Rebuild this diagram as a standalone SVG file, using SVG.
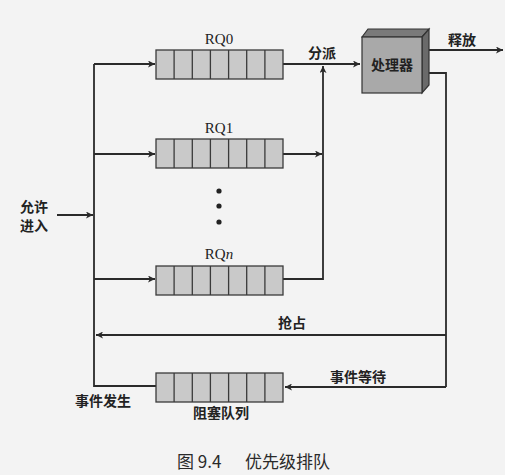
<svg xmlns="http://www.w3.org/2000/svg" width="505" height="475" viewBox="0 0 505 475">
<defs>
<marker id="ah" viewBox="0 0 10 10" refX="10" refY="5" markerWidth="9" markerHeight="7" markerUnits="userSpaceOnUse" orient="auto"><path d="M0,0 L10,5 L0,10 L2.5,5 Z" fill="#2a2a2a"/></marker>
<g id="queue">
<rect x="0" y="0" width="127" height="29" fill="#c9c9c9" stroke="#3a3a3a" stroke-width="1.3"/>
<path d="M18.1,0 V29 M36.3,0 V29 M54.4,0 V29 M72.6,0 V29 M90.7,0 V29 M108.9,0 V29" stroke="#3a3a3a" stroke-width="1.3"/>
</g>
</defs>
<style>
.ln{fill:none;stroke:#2a2a2a;stroke-width:1.8}
.ar{marker-end:url(#ah)}
.cj{font-family:"Noto Sans CJK SC","Noto Sans",sans-serif;font-size:14px;fill:#222;font-weight:bold}
.rq{font-family:"Liberation Serif",serif;font-size:15px;fill:#222}
.cap{font-family:"Noto Sans CJK SC","Noto Sans",sans-serif;font-size:17px;fill:#2a2a2a}
</style>
<rect width="505" height="475" fill="#f3f3f3"/>
<g id="connectors">
<path class="ln" d="M94,64 V386 H157"/>
<path class="ln ar" d="M94,64 H155"/>
<path class="ln ar" d="M94,154 H155"/>
<path class="ln ar" d="M94,279 H155"/>
<path class="ln ar" d="M57,215 H93"/>
<path class="ln ar" d="M283,64 H360"/>
<path class="ln ar" d="M283,154 H322"/>
<path class="ln ar" d="M283,279 H323 V66"/>
<path class="ln ar" d="M423,50 H503"/>
<path class="ln" d="M423,73 H446 V387"/>
<path class="ln ar" d="M446,335 H96"/>
<path class="ln ar" d="M446,387 H285"/>
</g>
<g id="rq0"><use href="#queue" x="156" y="50"/><text class="rq" x="219" y="44" text-anchor="middle">RQ0</text></g>
<g id="rq1"><use href="#queue" x="156" y="139"/><text class="rq" x="219" y="133" text-anchor="middle">RQ1</text></g>
<g id="dots"><circle cx="219" cy="191" r="2.6" fill="#222"/><circle cx="219" cy="206" r="2.6" fill="#222"/><circle cx="219" cy="222" r="2.6" fill="#222"/></g>
<g id="rqn"><use href="#queue" x="156" y="266"/><text class="rq" x="219" y="259" text-anchor="middle">RQ<tspan font-style="italic">n</tspan></text></g>
<g id="blocked"><use href="#queue" x="156" y="373"/><text class="cj" x="221" y="418" text-anchor="middle">阻塞队列</text></g>
<g id="processor">
<polygon points="362,37 368,29 429,29 422,37" fill="#7a7a7a" stroke="#333" stroke-width="1.2"/>
<polygon points="422,37 429,29 429,85 422,93" fill="#6a6a6a" stroke="#333" stroke-width="1.2"/>
<rect x="362" y="37" width="60" height="56" fill="#a9a9a9" stroke="#333" stroke-width="1.2"/>
<text class="cj" x="392" y="70" text-anchor="middle" font-size="15">处理器</text>
</g>
<g id="labels">
<text class="cj" x="322" y="58" text-anchor="middle">分派</text>
<text class="cj" x="462" y="45" text-anchor="middle">释放</text>
<text class="cj" x="20" y="212">允许</text>
<text class="cj" x="20" y="231">进入</text>
<text class="cj" x="292" y="328" text-anchor="middle">抢占</text>
<text class="cj" x="358" y="382" text-anchor="middle">事件等待</text>
<text class="cj" x="103" y="406" text-anchor="middle">事件发生</text>
<text class="cap" x="177" y="468">图 9.4</text>
<text class="cap" x="245" y="468">优先级排队</text>
</g>
</svg>
